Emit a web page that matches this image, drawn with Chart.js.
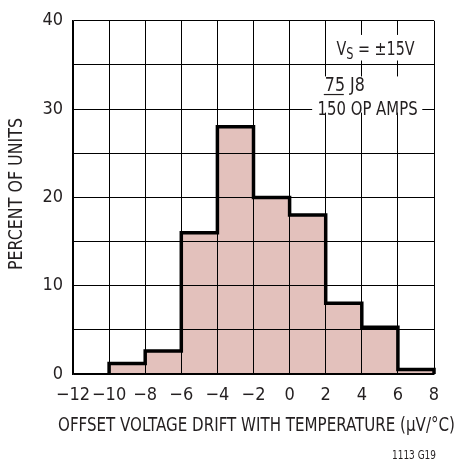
<!DOCTYPE html>
<html>
<head>
<meta charset="utf-8">
<title>Offset Voltage Drift Histogram</title>
<script src="https://cdn.jsdelivr.net/npm/chart.js"></script>
<style>
  body { margin: 0; background: #fff; }
  #wrap { width: 459px; height: 461px; }
</style>
</head>
<body>
<div id="wrap"><canvas id="hist"></canvas></div>
<script>
// bin edges in uV/C, one bar between each pair
const binEdges = [-10, -8, -6, -4, -2, 0, 2, 4, 6, 8];
// percent of units in each bin
const percentUnits = [1.2, 2.6, 16, 28, 20, 18, 8, 5.3, 0.5];
// axis ranges / tick steps
const xRange = [-12, 8];
const xStep = 2;
const yRange = [0, 40];
const yStep = 5;
const yLabelEvery = 10;

const FONT = '"Liberation Sans Narrow", "DejaVu Sans Condensed", "Noto Sans", "Liberation Sans", sans-serif';
const INK = '#231f20';

// bars sit at bin centres
const barData = percentUnits.map((v, i) => ({ x: (binEdges[i] + binEdges[i + 1]) / 2, y: v }));

// heavy outline around the histogram (stepped line)
const outline = [{ x: binEdges[0], y: 0 }];
percentUnits.forEach((v, i) => outline.push({ x: binEdges[i + 1], y: v }));
outline.push({ x: binEdges[binEdges.length - 1], y: 0 });

function minus(v) {
  return v < 0 ? '\u2212' + Math.abs(v) : String(v);
}

// draw text squeezed to a given width (the original uses a condensed face)
function fitText(ctx, parts, x, y, width) {
  let total = 0;
  parts.forEach(p => { ctx.font = p.font; total += ctx.measureText(p.t).width; });
  const k = width / total;
  ctx.save();
  ctx.translate(x, y);
  ctx.scale(k, 1);
  let cx = 0;
  parts.forEach(p => {
    ctx.font = p.font;
    ctx.fillText(p.t, cx, p.dy || 0);
    cx += ctx.measureText(p.t).width;
  });
  ctx.restore();
}

const notes = {
  id: 'notes',
  afterDraw(chart) {
    const { ctx } = chart;
    const sx = chart.scales.x, sy = chart.scales.y;
    const px = v => sx.getPixelForValue(v);
    const py = v => sy.getPixelForValue(v);
    const big = 'condensed 19px ' + FONT;
    ctx.save();
    // white boxes behind the notes
    ctx.fillStyle = '#fff';
    ctx.fillRect(px(2.45), py(38.4), px(7.25) - px(2.45), py(35.5) - py(38.4));
    ctx.fillRect(px(1.25), py(33.7), px(7.35) - px(1.25), py(29.6) - py(33.7));

    ctx.fillStyle = INK;
    ctx.textBaseline = 'alphabetic';
    ctx.textAlign = 'left';
    fitText(ctx, [
      { t: 'V', font: big },
      { t: 'S', font: 'condensed 15px ' + FONT, dy: 4 },
      { t: ' = \u00b115V', font: big }
    ], px(2.6), py(36.1), 78);

    const x75 = px(1.95);
    fitText(ctx, [{ t: '75 J8', font: big }], x75, py(32.0), 40);
    ctx.strokeStyle = INK;
    ctx.lineWidth = 1.2;
    ctx.beginPath();
    ctx.moveTo(x75 - 1, py(31.65));
    ctx.lineTo(x75 + 19, py(31.65));
    ctx.stroke();
    fitText(ctx, [{ t: '150 OP AMPS', font: big }], px(1.55), py(29.3), 100);

    // axis titles
    let w = 397;
    fitText(ctx, [{ t: 'OFFSET VOLTAGE DRIFT WITH TEMPERATURE (\u00b5V/\u00b0C)', font: big }], 256.5 - w / 2, 431, w);
    ctx.save();
    ctx.translate(22, 194);
    ctx.rotate(-Math.PI / 2);
    w = 152;
    fitText(ctx, [{ t: 'PERCENT OF UNITS', font: big }], -w / 2, 0, w);
    ctx.restore();

    // figure number
    fitText(ctx, [{ t: '1113 G19', font: 'condensed 12px ' + FONT }], 392, 459, 44);
    ctx.restore();
  }
};

new Chart(document.getElementById('hist'), {
  type: 'bar',
  data: {
    datasets: [
      {
        type: 'line',
        data: outline,
        stepped: 'after',
        borderColor: '#000',
        borderWidth: 3.5,
        borderJoinStyle: 'miter',
        pointRadius: 0,
        fill: false,
        clip: 4,
        order: 0
      },
      {
        data: barData,
        backgroundColor: '#e3c1bc',
        borderWidth: 0,
        barPercentage: 1,
        categoryPercentage: 1,
        order: 1
      }
    ]
  },
  options: {
    responsive: true,
    maintainAspectRatio: false,
    animation: false,
    layout: { padding: { top: 14, right: 25, left: 0, bottom: 0 } },
    plugins: {
      legend: { display: false },
      tooltip: { enabled: false }
    },
    scales: {
      x: {
        type: 'linear',
        min: xRange[0],
        max: xRange[1],
        offset: false,
        grid: { color: '#000', lineWidth: 1, drawTicks: false, offset: false, z: 1 },
        border: { color: '#000', width: 1.5, z: 2 },
        ticks: {
          stepSize: xStep,
          autoSkip: false,
          padding: 11,
          color: INK,
          font: { family: FONT, size: 18, weight: 'condensed' },
          maxRotation: 0,
          callback: v => minus(v)
        },
        afterFit: s => { s.height = 87; }
      },
      y: {
        min: yRange[0],
        max: yRange[1],
        grid: { color: '#000', lineWidth: 1, drawTicks: false, z: 1 },
        border: { color: '#000', width: 1.5, z: 2 },
        ticks: {
          stepSize: yStep,
          autoSkip: false,
          padding: 10,
          color: INK,
          font: { family: FONT, size: 18, weight: 'condensed' },
          callback: v => (v % yLabelEvery === 0 ? v : '')
        },
        afterFit: s => { s.width = 73; }
      }
    }
  },
  plugins: [notes]
});
</script>
</body>
</html>
